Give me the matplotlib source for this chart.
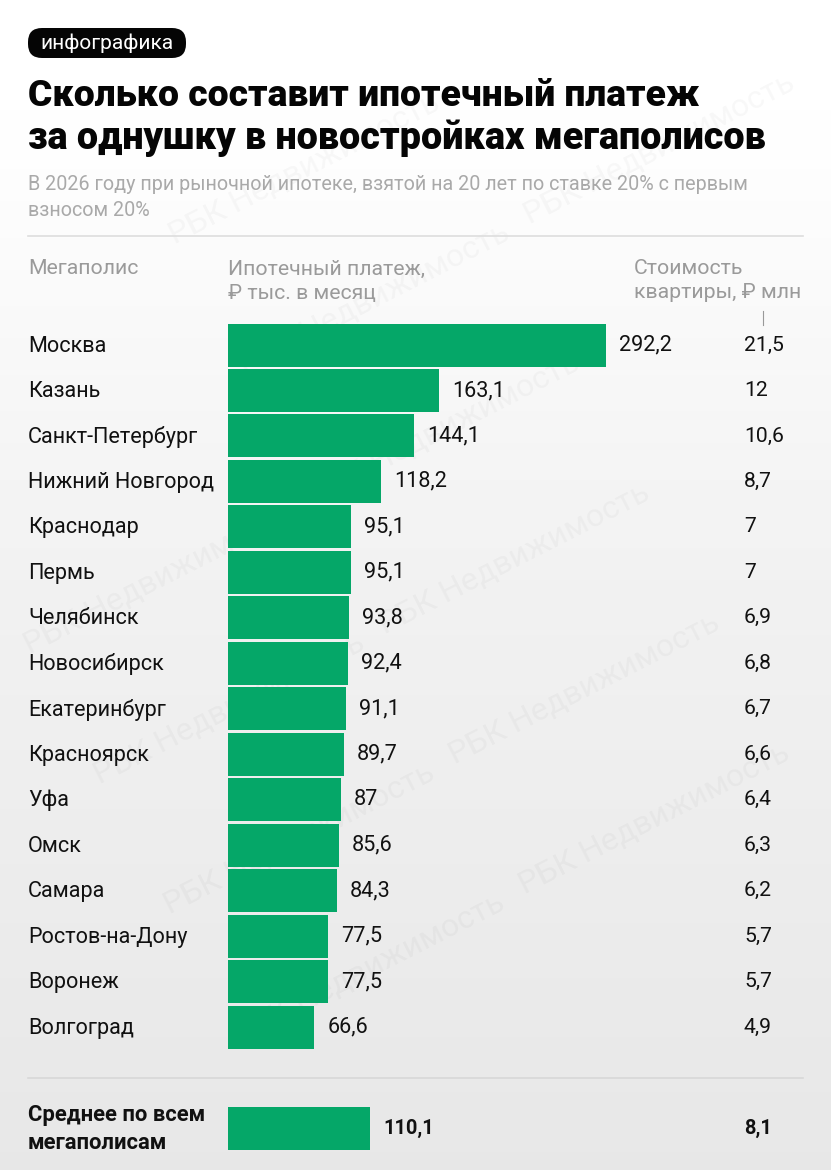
import numpy as np
import matplotlib
matplotlib.use("Agg")
import matplotlib.pyplot as plt
from matplotlib.patches import FancyBboxPatch

plt.rcParams['font.family'] = ['Roboto', 'DejaVu Sans']

cities = ["Москва", "Казань", "Санкт-Петербург", "Нижний Новгород", "Краснодар", "Пермь",
          "Челябинск", "Новосибирск", "Екатеринбург", "Красноярск", "Уфа", "Омск", "Самара",
          "Ростов-на-Дону", "Воронеж", "Волгоград"]
payment = [292.2, 163.1, 144.1, 118.2, 95.1, 95.1, 93.8, 92.4, 91.1, 89.7, 87, 85.6, 84.3, 77.5, 77.5, 66.6]
price = [21.5, 12, 10.6, 8.7, 7, 7, 6.9, 6.8, 6.7, 6.6, 6.4, 6.3, 6.2, 5.7, 5.7, 4.9]
avg_label = "Среднее по всем\nмегаполисам"
avg_payment = 110.1
avg_price = 8.1

W, H = 831, 1170
GREEN = "#05a768"
fmt = lambda v: f"{v:g}".replace(".", ",")

fig = plt.figure(figsize=(W/100, H/100), dpi=100)
bg = fig.add_axes([0, 0, 1, 1])
bg.set_xlim(0, W); bg.set_ylim(H, 0); bg.axis("off")
grad = np.interp(np.linspace(0, 1, 256), [0, 0.12, 0.5, 1], [1.0, 0.995, 0.945, 0.905])[:, None]
bg.imshow(grad, extent=(0, W, H, 0), cmap="gray", vmin=0, vmax=1, aspect="auto", zorder=0)

# watermark, kept wholly inside the canvas
for i in range(-6, 12):
    for j in range(-3, 12):
        x0 = 175 + i*285 + j*70
        y0 = 245 - i*150 + j*130
        if 5 <= x0 <= 540 and 150 <= y0 <= 1165:
            bg.text(x0, y0, "РБК Недвижимость", fontsize=23, color="black", alpha=0.03,
                    rotation=27, rotation_mode="anchor", ha="left", va="baseline", zorder=1)

# badge
bg.add_patch(FancyBboxPatch((28, 28), 158, 30, boxstyle="round,pad=0,rounding_size=14",
                            fc="#050505", ec="none", zorder=2))
bg.text(107, 43, "инфографика", color="white", fontsize=15, ha="center", va="center", zorder=3)

# title
bg.text(28, 96, "Сколько составит ипотечный платеж", fontsize=26.8, fontweight="black",
        color="#050505", va="center", zorder=3)
bg.text(28, 138.5, "за однушку в новостройках мегаполисов", fontsize=27.2, fontweight="black",
        color="#050505", va="center", zorder=3)

# subtitle
G = "#a9a9a9"
bg.text(28, 184.5, "В 2026 году при рыночной ипотеке, взятой на 20 лет по ставке 20% с первым",
        fontsize=14.2, color=G, va="center", zorder=3)
bg.text(28, 210.5, "взносом 20%", fontsize=14.2, color=G, va="center", zorder=3)
bg.plot([28, 803], [236, 236], color="#dddddd", lw=1.2, zorder=2)

# headers
H2 = "#9a9a9a"
HS = 15.3
bg.text(28, 269, "Мегаполис", fontsize=HS, color=H2, va="center", zorder=3)
bg.text(228, 269, "Ипотечный платеж,", fontsize=HS, color=H2, va="center", zorder=3)
bg.text(228, 293, "₽ тыс. в месяц", fontsize=HS, color=H2, va="center", zorder=3)
bg.text(634, 269, "Стоимость", fontsize=HS, color=H2, va="center", zorder=3)
bg.text(634, 293, "квартиры, ₽ млн", fontsize=HS, color=H2, va="center", zorder=3)
bg.plot([763, 763], [311, 325], color="#999999", lw=0.8, zorder=3)

# bars: own data scale
ROW0, STEP, BAR_H = 345.0, 45.47, 43.0
PX_PER_UNIT = 378.0/292.2
ax = fig.add_axes([228/W, 0, (W-228)/W, 1], facecolor="none")
ax.set_xlim(0, (W-228)/PX_PER_UNIT)
ax.set_ylim(H, 0)
ax.axis("off")

ys = ROW0 + STEP*np.arange(len(cities))
ax.barh(ys, payment, height=BAR_H, color=GREEN, zorder=3)
TXT = "#111111"
LS = 15.6
NS = 15.6
for y, c, v, p in zip(ys, cities, payment, price):
    bg.text(28, y+1, c, fontsize=LS, color=TXT, va="center", zorder=3)
    ax.annotate(fmt(v), (v, y), xytext=(13, 0), textcoords="offset pixels", fontsize=NS,
                color=TXT, va="center", ha="left", zorder=4)
    bg.text(744, y, fmt(p), fontsize=15.2, color=TXT, va="center", zorder=3)

bg.plot([28, 803], [1078, 1078], color="#d8d8d8", lw=1.2, zorder=2)

AVG_Y = 1128.5
ax.barh([AVG_Y], [avg_payment], height=BAR_H, color=GREEN, zorder=3)
bg.text(28, 1129, avg_label, fontsize=15.8, fontweight="bold", color=TXT, va="center",
        linespacing=1.35, zorder=3)
ax.annotate(fmt(avg_payment), (avg_payment, AVG_Y), xytext=(13, 0), textcoords="offset pixels",
            fontsize=14.4, fontweight="bold", color=TXT, va="center", ha="left", zorder=4)
bg.text(744, 1128.5, fmt(avg_price), fontsize=14.4, fontweight="bold", color=TXT, va="center", zorder=3)

fig.savefig("out.png", dpi=100)
